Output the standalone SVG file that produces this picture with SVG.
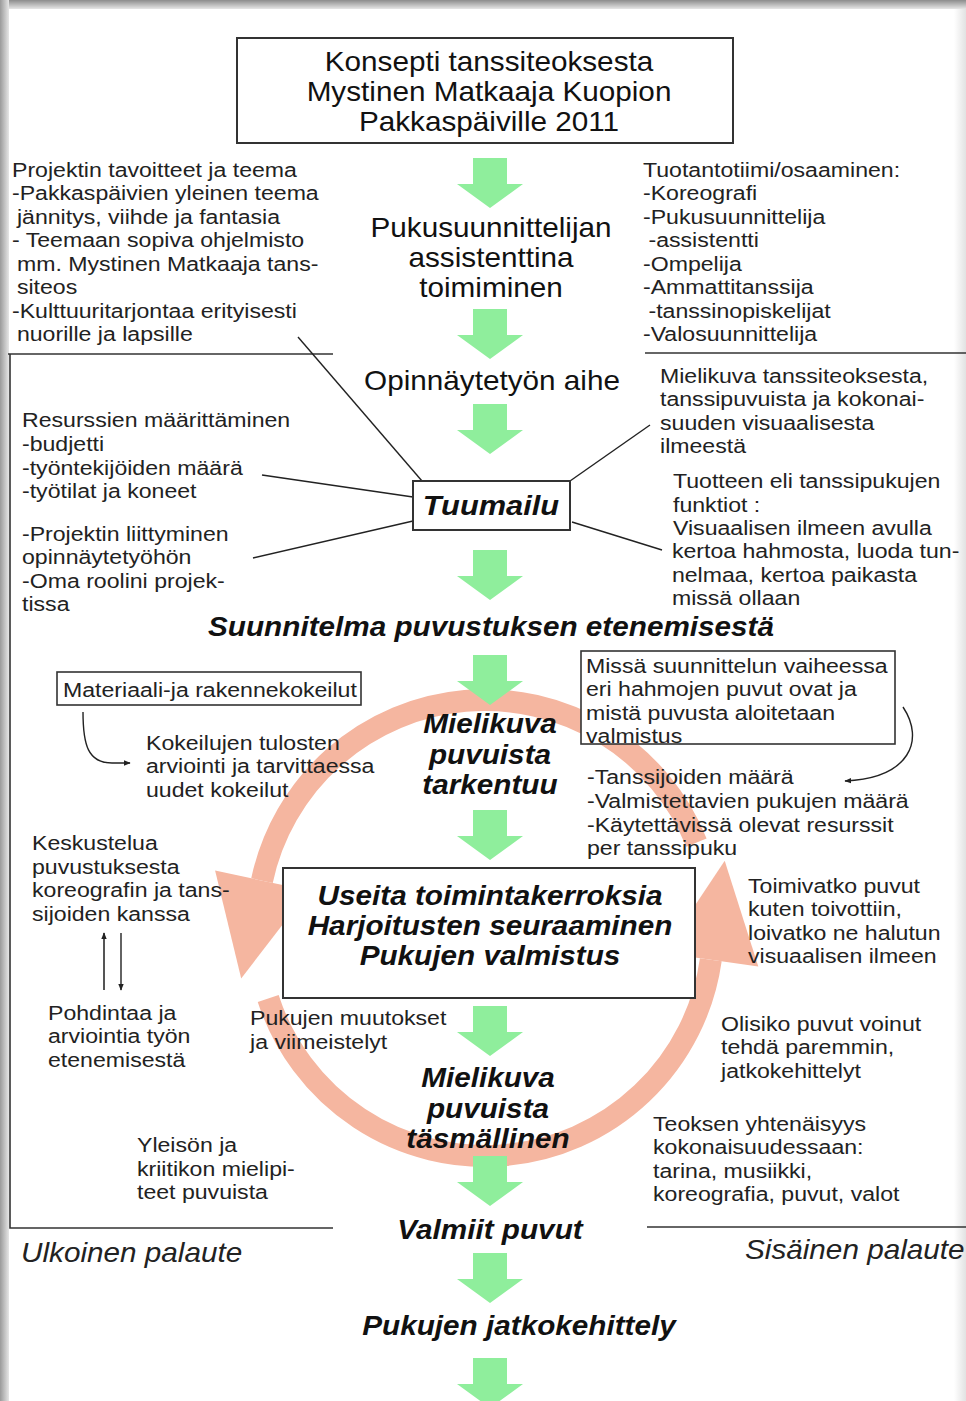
<svg xmlns="http://www.w3.org/2000/svg" width="966" height="1401" viewBox="0 0 966 1401">
<defs>
<style>
.t{font-family:"Liberation Sans",Arial,sans-serif;font-size:21px;fill:#222}
.h{font-family:"Liberation Sans",Arial,sans-serif;font-size:27px;fill:#111}
.bi{font-family:"Liberation Sans",Arial,sans-serif;font-size:27px;font-weight:bold;font-style:italic;fill:#111}
.it{font-family:"Liberation Sans",Arial,sans-serif;font-size:27px;font-style:italic;fill:#222}
.box{fill:#fff;stroke:#333;stroke-width:2}
.ln{stroke:#222;stroke-width:1.4;fill:none}
.rule{stroke:#333;stroke-width:1.6;fill:none}
.ring{stroke:#F5B6A0;stroke-width:22;fill:none}
.rh{fill:#F5B6A0}
.ga{fill:#8FEE9C}
</style>
<linearGradient id="gTop" x1="0" y1="0" x2="0" y2="1"><stop offset="0" stop-color="#8c8c8c"/><stop offset="1" stop-color="#e6e6e6"/></linearGradient>
<linearGradient id="gLeft" x1="0" y1="0" x2="1" y2="0"><stop offset="0" stop-color="#9a9a9a"/><stop offset="1" stop-color="#e6e6e6"/></linearGradient>
<linearGradient id="gRight" x1="0" y1="0" x2="1" y2="0"><stop offset="0" stop-color="#ffffff"/><stop offset="1" stop-color="#e2e2e2"/></linearGradient>
<marker id="ah" viewBox="0 0 10 10" refX="9" refY="5" markerWidth="7" markerHeight="7" orient="auto" markerUnits="userSpaceOnUse"><path d="M0,1 L10,5 L0,9 Z" fill="#222"/></marker>
<path id="garrow" d="M-17,0 H17 V26 H33 L0,50 L-33,26 H-17 Z"/>
</defs>
<rect width="966" height="1401" fill="#fff"/>
<rect x="0" y="0" width="966" height="9" fill="url(#gTop)"/>
<rect x="0" y="0" width="9" height="1401" fill="url(#gLeft)"/>
<rect x="954" y="9" width="12" height="1392" fill="url(#gRight)"/>

<g id="cycle-ring">
<path class="ring" d="M696.4,842.6 A228,228 0 0 0 262,880.6"/>
<polygon class="rh" points="215.1,870.6 308.9,890.6 241.2,978.4"/>
<path class="ring" d="M268.2,998.5 A228,228 0 0 0 710.8,959.7"/>
<polygon class="rh" points="663.3,953 758.3,966.4 724.7,860.7"/>
</g>

<g id="rules">
<path class="rule" d="M8,354 H333"/>
<path class="rule" d="M645,353 H966"/>
<path class="rule" d="M10,354 V1228 H333"/>
<path class="rule" d="M647,1227 H966"/>
</g>

<g id="flow-arrows">
<use href="#garrow" class="ga" transform="translate(490,158)"/>
<use href="#garrow" class="ga" transform="translate(490,309)"/>
<use href="#garrow" class="ga" transform="translate(490,404)"/>
<use href="#garrow" class="ga" transform="translate(490,550)"/>
<use href="#garrow" class="ga" transform="translate(490,655)"/>
<use href="#garrow" class="ga" transform="translate(490,810)"/>
<use href="#garrow" class="ga" transform="translate(490,1006)"/>
<use href="#garrow" class="ga" transform="translate(490,1156)"/>
<use href="#garrow" class="ga" transform="translate(490,1253)"/>
<use href="#garrow" class="ga" transform="translate(490,1358)"/>
</g>

<g id="connectors">
<path class="ln" d="M298,337 L422,481"/>
<path class="ln" d="M262,475 L413,497"/>
<path class="ln" d="M253,558 L413,521"/>
<path class="ln" d="M570,481 L650,425"/>
<path class="ln" d="M572,522 L662,550"/>
<path class="ln" d="M83,712 C83,745 88,763 112,763 L130,763" marker-end="url(#ah)"/>
<path class="ln" d="M903,707 C925,740 910,778 845,781" marker-end="url(#ah)"/>
<path d="M104,990 V933" stroke="#555" stroke-width="2" fill="none" marker-end="url(#ah)"/>
<path class="ln" d="M121,933 V990" marker-end="url(#ah)"/>
</g>

<g id="title">
<rect class="box" x="237" y="38" width="496" height="105"/>
<text class="h" text-anchor="middle" transform="translate(489,0) scale(1.1,1)"><tspan x="0" y="71">Konsepti tanssiteoksesta</tspan><tspan x="0" y="101">Mystinen Matkaaja Kuopion</tspan><tspan x="0" y="131">Pakkaspäiville 2011</tspan></text>
</g>

<g id="goals">
<text class="t" transform="translate(12,0) scale(1.1,1)"><tspan x="0" y="177">Projektin tavoitteet ja teema</tspan><tspan x="0" y="200.5">-Pakkaspäivien yleinen teema</tspan><tspan x="4.5" y="224">jännitys, viihde ja fantasia</tspan><tspan x="0" y="247.5">- Teemaan sopiva ohjelmisto</tspan><tspan x="4.5" y="271">mm. Mystinen Matkaaja tans-</tspan><tspan x="4.5" y="294.5">siteos</tspan><tspan x="0" y="318">-Kulttuuritarjontaa erityisesti</tspan><tspan x="4.5" y="341.5">nuorille ja lapsille</tspan></text>
</g>

<g id="team">
<text class="t" transform="translate(643,0) scale(1.1,1)"><tspan x="0" y="177">Tuotantotiimi/osaaminen:</tspan><tspan x="0" y="200.5">-Koreografi</tspan><tspan x="0" y="224">-Pukusuunnittelija</tspan><tspan x="5" y="247.5">-assistentti</tspan><tspan x="0" y="271">-Ompelija</tspan><tspan x="0" y="294.5">-Ammattitanssija</tspan><tspan x="5" y="318">-tanssinopiskelijat</tspan><tspan x="0" y="341.5">-Valosuunnittelija</tspan></text>
</g>

<g id="assistant">
<text class="h" text-anchor="middle" transform="translate(491,0) scale(1.1,1)"><tspan x="0" y="237">Pukusuunnittelijan</tspan><tspan x="0" y="267">assistenttina</tspan><tspan x="0" y="297">toimiminen</tspan></text>
</g>

<g id="topic">
<text class="h" text-anchor="middle" transform="translate(492,0) scale(1.1,1)"><tspan x="0" y="390">Opinnäytetyön aihe</tspan></text>
</g>

<g id="resources">
<text class="t" transform="translate(22,0) scale(1.1,1)"><tspan x="0" y="427">Resurssien määrittäminen</tspan><tspan x="0" y="451">-budjetti</tspan><tspan x="0" y="475">-työntekijöiden määrä</tspan><tspan x="0" y="498">-työtilat ja koneet</tspan></text>
</g>

<g id="project-role">
<text class="t" transform="translate(22,0) scale(1.1,1)"><tspan x="0" y="541">-Projektin liittyminen</tspan><tspan x="0" y="564">opinnäytetyöhön</tspan><tspan x="0" y="588">-Oma roolini projek-</tspan><tspan x="0" y="611">tissa</tspan></text>
</g>

<g id="image-of-work">
<text class="t" transform="translate(660,0) scale(1.1,1)"><tspan x="0" y="383">Mielikuva tanssiteoksesta,</tspan><tspan x="0" y="406">tanssipuvuista ja kokonai-</tspan><tspan x="0" y="430">suuden visuaalisesta</tspan><tspan x="0" y="453">ilmeestä</tspan></text>
</g>

<g id="functions">
<text class="t" transform="translate(673,0) scale(1.1,1)"><tspan x="0" y="488">Tuotteen eli tanssipukujen</tspan><tspan x="0" y="512">funktiot :</tspan><tspan x="0" y="535">Visuaalisen ilmeen avulla</tspan><tspan x="-1" y="558">kertoa hahmosta, luoda tun-</tspan><tspan x="-1" y="582">nelmaa, kertoa paikasta</tspan><tspan x="-1" y="605">missä ollaan</tspan></text>
</g>

<g id="tuumailu">
<rect class="box" x="413" y="481" width="157" height="49"/>
<text class="bi" text-anchor="middle" transform="translate(491,0) scale(1.1,1)" style="font-size:28px"><tspan x="0" y="515">Tuumailu</tspan></text>
</g>

<g id="plan">
<text class="bi" text-anchor="middle" transform="translate(491,0) scale(1.1,1)"><tspan x="0" y="636">Suunnitelma puvustuksen etenemisestä</tspan></text>
</g>

<g id="material-tests">
<rect class="box" x="57" y="672" width="304" height="33" style="stroke-width:1.6"/>
<text class="t" transform="translate(63,0) scale(1.1,1)"><tspan x="0" y="697">Materiaali-ja rakennekokeilut</tspan></text>
</g>

<g id="evaluation">
<text class="t" transform="translate(146,0) scale(1.1,1)"><tspan x="0" y="750">Kokeilujen tulosten</tspan><tspan x="0" y="773">arviointi ja tarvittaessa</tspan><tspan x="0" y="797">uudet kokeilut</tspan></text>
</g>

<g id="image-refines">
<text class="bi" text-anchor="middle" transform="translate(490,0) scale(1.1,1)"><tspan x="0" y="733">Mielikuva</tspan><tspan x="0" y="764">puvuista</tspan><tspan x="0" y="794">tarkentuu</tspan></text>
</g>

<g id="phase-box">
<rect class="box" x="581" y="651" width="314" height="93" style="stroke-width:1.6"/>
<text class="t" transform="translate(586,0) scale(1.1,1)"><tspan x="0" y="673">Missä suunnittelun vaiheessa</tspan><tspan x="0" y="696">eri hahmojen puvut ovat ja</tspan><tspan x="0" y="720">mistä puvusta aloitetaan</tspan><tspan x="0" y="743">valmistus</tspan></text>
</g>

<g id="counts">
<text class="t" transform="translate(587,0) scale(1.1,1)"><tspan x="0" y="784">-Tanssijoiden määrä</tspan><tspan x="0" y="808">-Valmistettavien pukujen määrä</tspan><tspan x="0" y="832">-Käytettävissä olevat resurssit</tspan><tspan x="0" y="855">per tanssipuku</tspan></text>
</g>

<g id="discussion">
<text class="t" transform="translate(32,0) scale(1.1,1)"><tspan x="0" y="850">Keskustelua</tspan><tspan x="0" y="874">puvustuksesta</tspan><tspan x="0" y="897">koreografin ja tans-</tspan><tspan x="0" y="921">sijoiden kanssa</tspan></text>
</g>

<g id="reflection">
<text class="t" transform="translate(48,0) scale(1.1,1)"><tspan x="0" y="1020">Pohdintaa ja</tspan><tspan x="0" y="1043">arviointia työn</tspan><tspan x="0" y="1067">etenemisestä</tspan></text>
</g>

<g id="activities">
<rect class="box" x="283" y="868" width="412" height="130"/>
<text class="bi" text-anchor="middle" transform="translate(490,0) scale(1.1,1)"><tspan x="0" y="905">Useita toimintakerroksia</tspan><tspan x="0" y="935">Harjoitusten seuraaminen</tspan><tspan x="0" y="965">Pukujen valmistus</tspan></text>
</g>

<g id="did-they-work">
<text class="t" transform="translate(748,0) scale(1.1,1)"><tspan x="0" y="893">Toimivatko puvut</tspan><tspan x="0" y="916">kuten toivottiin,</tspan><tspan x="0" y="940">loivatko ne halutun</tspan><tspan x="0" y="963">visuaalisen ilmeen</tspan></text>
</g>

<g id="changes">
<text class="t" transform="translate(250,0) scale(1.1,1)"><tspan x="0" y="1025">Pukujen muutokset</tspan><tspan x="0" y="1049">ja viimeistelyt</tspan></text>
</g>

<g id="could-be-better">
<text class="t" transform="translate(721,0) scale(1.1,1)"><tspan x="0" y="1031">Olisiko puvut voinut</tspan><tspan x="0" y="1054">tehdä paremmin,</tspan><tspan x="0" y="1078">jatkokehittelyt</tspan></text>
</g>

<g id="image-precise">
<text class="bi" text-anchor="middle" transform="translate(488,0) scale(1.1,1)"><tspan x="0" y="1087">Mielikuva</tspan><tspan x="0" y="1118">puvuista</tspan><tspan x="0" y="1148">täsmällinen</tspan></text>
</g>

<g id="unity">
<text class="t" transform="translate(653,0) scale(1.1,1)"><tspan x="0" y="1131">Teoksen yhtenäisyys</tspan><tspan x="0" y="1154">kokonaisuudessaan:</tspan><tspan x="0" y="1178">tarina, musiikki,</tspan><tspan x="0" y="1201">koreografia, puvut, valot</tspan></text>
</g>

<g id="audience">
<text class="t" transform="translate(137,0) scale(1.1,1)"><tspan x="0" y="1152">Yleisön ja</tspan><tspan x="0" y="1176">kriitikon mielipi-</tspan><tspan x="0" y="1199">teet puvuista</tspan></text>
</g>

<g id="finished">
<text class="bi" text-anchor="middle" transform="translate(490,0) scale(1.1,1)"><tspan x="0" y="1239">Valmiit puvut</tspan></text>
</g>

<g id="external">
<text class="it" transform="translate(21,0) scale(1.1,1)"><tspan x="0" y="1262">Ulkoinen palaute</tspan></text>
</g>

<g id="internal">
<text class="it" transform="translate(745,0) scale(1.1,1)"><tspan x="0" y="1259">Sisäinen palaute</tspan></text>
</g>

<g id="further-dev">
<text class="bi" text-anchor="middle" transform="translate(519,0) scale(1.1,1)"><tspan x="0" y="1335">Pukujen jatkokehittely</tspan></text>
</g>
</svg>
